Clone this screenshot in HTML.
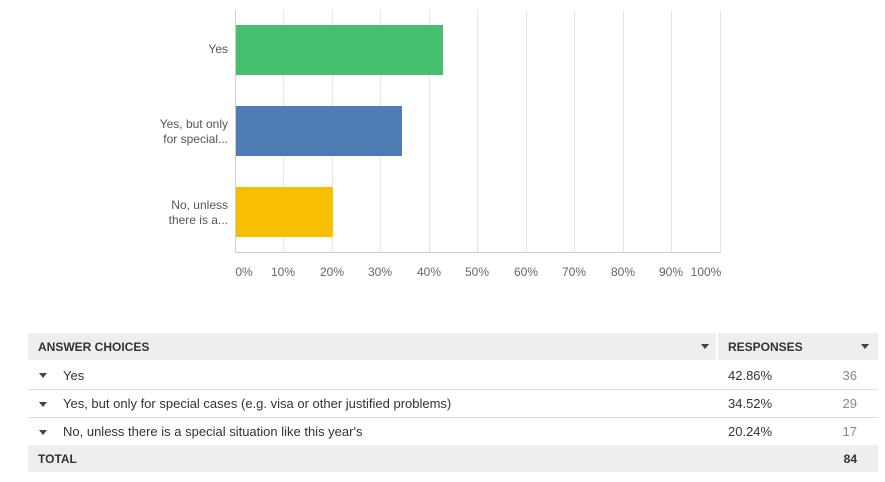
<!DOCTYPE html>
<html><head><style>
body{margin:0;width:885px;height:482px;background:#fff;font-family:"Liberation Sans",sans-serif;position:relative;overflow:hidden}
.a{position:absolute}
.lbl{position:absolute;right:657px;text-align:right;font-size:12px;color:#555;line-height:15px}
.tk{position:absolute;top:265px;font-size:12px;color:#666;width:40px;text-align:center}
.row{position:absolute;left:28px;width:850px;font-size:13px;color:#333}
.tri{display:inline-block;width:0;height:0;border-left:4px solid transparent;border-right:4px solid transparent;border-top:5px solid #444;vertical-align:middle}
</style></head><body>
<svg class="a" style="left:0;top:0" width="885" height="300">
<g stroke="#e6e6e6" stroke-width="1">
<line x1="283.5" y1="10" x2="283.5" y2="252"/><line x1="332.5" y1="10" x2="332.5" y2="252"/><line x1="380.5" y1="10" x2="380.5" y2="252"/><line x1="429.5" y1="10" x2="429.5" y2="252"/><line x1="477.5" y1="10" x2="477.5" y2="252"/><line x1="526.5" y1="10" x2="526.5" y2="252"/><line x1="574.5" y1="10" x2="574.5" y2="252"/><line x1="623.5" y1="10" x2="623.5" y2="252"/><line x1="671.5" y1="10" x2="671.5" y2="252"/><line x1="720.5" y1="10" x2="720.5" y2="252"/>
</g>
<line x1="235.5" y1="10" x2="235.5" y2="252.5" stroke="#ccc"/>
<line x1="235" y1="252.5" x2="721" y2="252.5" stroke="#ccc"/>
<rect x="236" y="25" width="207" height="50" fill="#46bf6f"/>
<rect x="236" y="106" width="166" height="50" fill="#4e7cb5"/>
<rect x="236" y="187" width="97" height="50" fill="#f8bf00"/>
</svg>
<div class="lbl" style="top:42px">Yes</div>
<div class="lbl" style="top:117px">Yes, but only<br>for special...</div>
<div class="lbl" style="top:198px">No, unless<br>there is a...</div>
<div class="tk" style="left:224px">0%</div><div class="tk" style="left:263px">10%</div><div class="tk" style="left:312px">20%</div><div class="tk" style="left:360px">30%</div><div class="tk" style="left:409px">40%</div><div class="tk" style="left:457px">50%</div><div class="tk" style="left:506px">60%</div><div class="tk" style="left:554px">70%</div><div class="tk" style="left:603px">80%</div><div class="tk" style="left:651px">90%</div><div class="tk" style="left:686px">100%</div>

<div class="row" style="top:333px;height:27px;background:#eceeef;font-weight:bold;font-size:12px">
<span class="a" style="left:10px;top:7px">ANSWER CHOICES</span><span class="a tri" style="left:673px;top:11px"></span>
<div class="a" style="left:688px;top:0;width:2px;height:27px;background:#fff"></div>
<span class="a" style="left:700px;top:7px">RESPONSES</span><span class="a tri" style="left:833px;top:11px"></span></div>
<div class="row" style="top:360px;height:29px;border-bottom:1px solid #ddd"><span class="a tri" style="left:11px;top:13px"></span><span class="a" style="left:35px;top:8px">Yes</span><span class="a" style="left:700px;top:8px">42.86%</span><span class="a" style="left:800px;width:29px;text-align:right;top:8px;color:#888">36</span></div>
<div class="row" style="top:389px;height:28px;border-bottom:1px solid #ddd"><span class="a tri" style="left:11px;top:13px"></span><span class="a" style="left:35px;top:7px">Yes, but only for special cases (e.g. visa or other justified problems)</span><span class="a" style="left:700px;top:7px">34.52%</span><span class="a" style="left:800px;width:29px;text-align:right;top:7px;color:#888">29</span></div>
<div class="row" style="top:418px;height:27px"><span class="a tri" style="left:11px;top:12px"></span><span class="a" style="left:35px;top:6px">No, unless there is a special situation like this year's</span><span class="a" style="left:700px;top:6px">20.24%</span><span class="a" style="left:800px;width:29px;text-align:right;top:6px;color:#888">17</span></div>
<div class="row" style="top:445px;height:27px;background:#eceeef;font-weight:bold;font-size:12px"><span class="a" style="left:10px;top:7px">TOTAL</span><span class="a" style="left:800px;width:29px;text-align:right;top:7px">84</span></div>
</body></html>
